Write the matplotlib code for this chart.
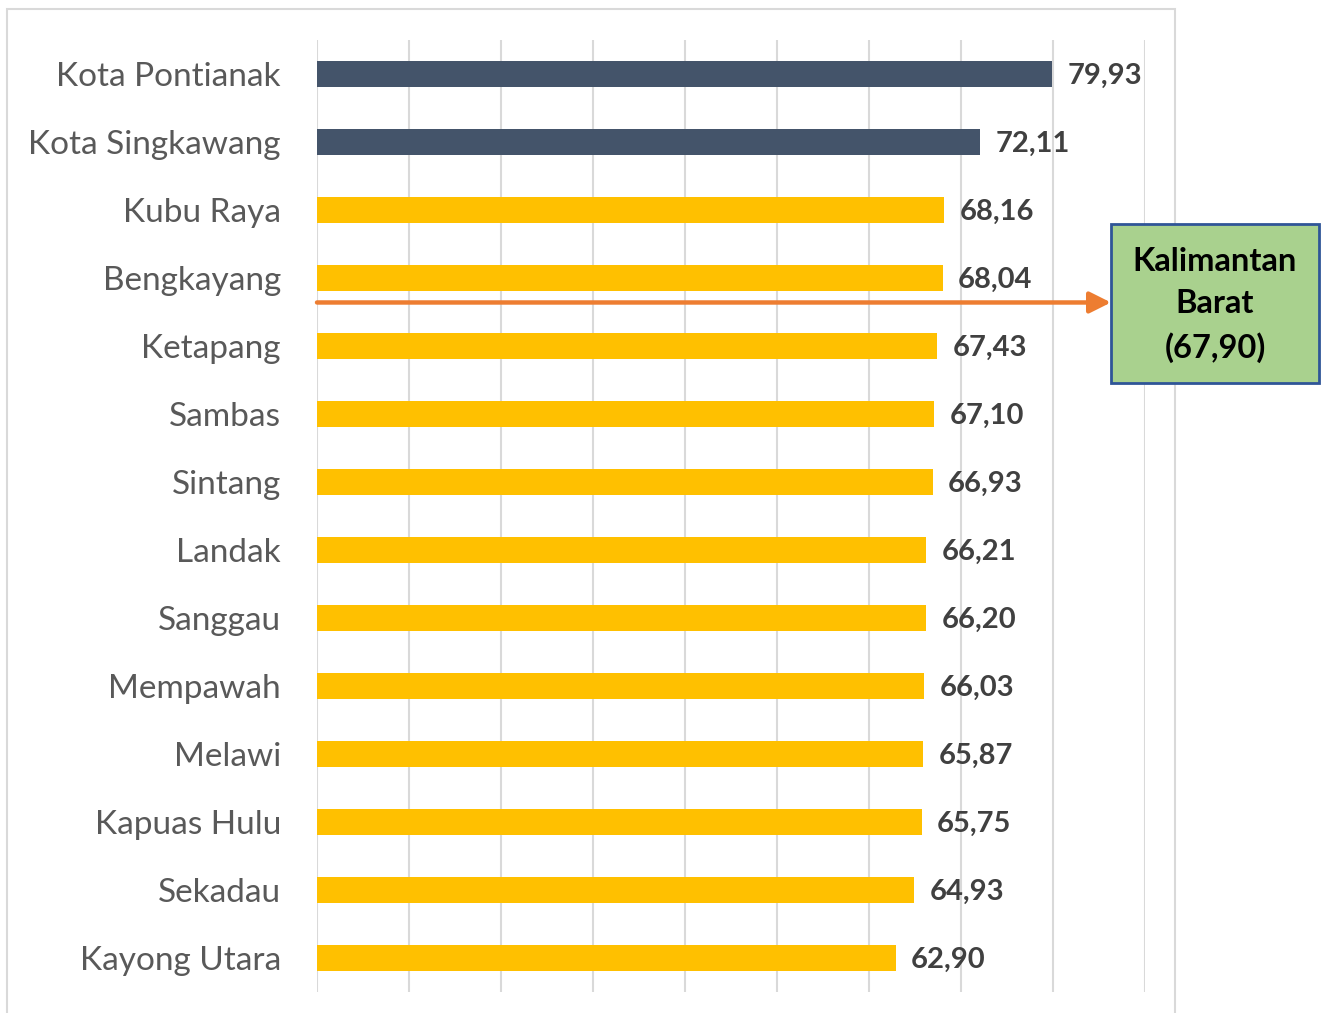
import matplotlib.pyplot as plt
from matplotlib.patches import Rectangle, FancyArrowPatch

plt.rcParams['font.family'] = ['Lato', 'DejaVu Sans']

regions = ["Kota Pontianak", "Kota Singkawang", "Kubu Raya", "Bengkayang",
           "Ketapang", "Sambas", "Sintang", "Landak", "Sanggau", "Mempawah",
           "Melawi", "Kapuas Hulu", "Sekadau", "Kayong Utara"]
values = [79.93, 72.11, 68.16, 68.04, 67.43, 67.10, 66.93, 66.21, 66.20,
          66.03, 65.87, 65.75, 64.93, 62.90]
province = "Kalimantan\nBarat\n(67,90)"

colors = ["#44546A" if v > 70 else "#FFC000" for v in values]

fig = plt.figure(figsize=(13.21, 10.13), dpi=100)
ax = fig.add_axes([317 / 1321, 21 / 1013, 828 / 1321, 952 / 1013])

ypos = list(range(len(regions)))
ax.barh(ypos, values, height=0.37, color=colors, zorder=2)
ax.set_ylim(len(regions) - 0.5, -0.5)
ax.set_xlim(0, 90)
ax.set_xticks(range(0, 91, 10))
ax.xaxis.grid(True, color="#D9D9D9", linewidth=1.5)
ax.set_axisbelow(True)
ax.tick_params(axis="x", bottom=False, labelbottom=False)
ax.set_yticks(ypos)
ax.set_yticklabels(regions, fontsize=24, color="#595959")
ax.tick_params(axis="y", length=0, pad=26)
for s in ax.spines.values():
    s.set_visible(False)

for y, v in zip(ypos, values):
    ax.annotate(f"{v:.2f}".replace(".", ","), (v, y), xytext=(11, -1.5),
                textcoords="offset points", va="center", ha="left",
                fontsize=21, fontweight="bold", color="#404040", zorder=3)

# arrow pointing to provincial value box
arrow = FancyArrowPatch((0, 3.36), (86.3, 3.36), arrowstyle="-|>",
                        mutation_scale=32, color="#ED7D31", linewidth=3.2,
                        shrinkA=0, shrinkB=0, clip_on=False, zorder=4)
ax.add_patch(arrow)

border = Rectangle((7 / 1321, -0.05), 1168 / 1321, 1.05 - 9 / 1013,
                   transform=fig.transFigure, fill=False,
                   edgecolor="#D9D9D9", linewidth=1.5, zorder=1)
fig.patches.append(border)

box = Rectangle((1111 / 1321, 1 - 383 / 1013), 208 / 1321, 159 / 1013,
                transform=fig.transFigure, facecolor="#A9D18E",
                edgecolor="#2F5597", linewidth=2, zorder=5)
fig.patches.append(box)
fig.text(1215 / 1321, 1 - 305 / 1013, province, ha="center", va="center",
         fontsize=23.5, fontweight="bold", color="black", linespacing=1.55,
         zorder=6)

fig.savefig("out.png", dpi=100)
